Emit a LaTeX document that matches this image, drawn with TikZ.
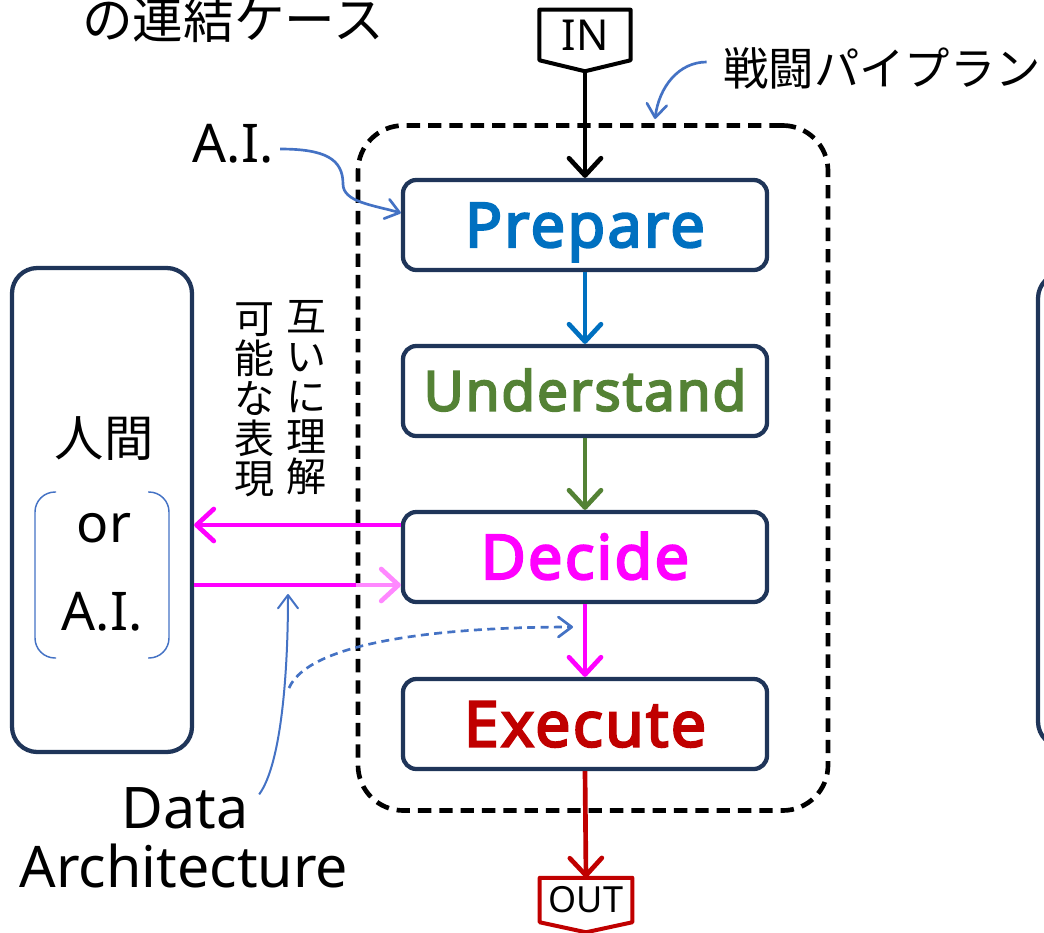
\documentclass[tikz,border=0pt]{standalone}
\usepackage{fontspec}
\setmainfont{Noto Sans}
\newfontfamily\jp{Noto Sans CJK JP}
\newfontfamily\stagefont{Open Sans}[FakeBold=4, LetterSpace=4]
\usetikzlibrary{arrows.meta,calc}
\definecolor{navy}{HTML}{1F3559}
\definecolor{stepblue}{HTML}{0070C0}
\definecolor{stepgreen}{HTML}{548235}
\definecolor{stepmag}{HTML}{FF00FF}
\definecolor{stepred}{HTML}{C00000}
\definecolor{notecol}{HTML}{4472C4}
\definecolor{softmag}{HTML}{FF88FF}
\begin{document}
\begin{tikzpicture}[x=0.75pt,y=-0.75pt,
  stage/.style 2 args={draw=navy, line width=3.2pt, rounded corners=10pt, fill=white,
    minimum width=273pt, minimum height=67.5pt, inner sep=0pt,
    text height=#2, text depth=0pt,
    font=\stagefont\fontsize{#1}{#1}\selectfont},
  bigbox/.style={draw=navy, line width=3.2pt, rounded corners=19pt,
    minimum width=135pt, inner sep=0pt},
  frame/.style={draw, dash pattern=on 10pt off 6pt, line width=3.5pt,
    rounded corners=34pt, minimum width=352.5pt, minimum height=513.75pt},
  tag/.style={inner sep=0pt},
  flow/.style={line width=3.5pt, -{Straight Barb[length=13pt,width=24pt,round]}},
  note/.style={draw=notecol, line width=2pt, -{Straight Barb[length=10pt,width=15pt,round]}},
  bracket/.style={draw=notecol, line width=1.1pt, rounded corners=15pt},
  latin/.style={font=\fontsize{40}{40}\selectfont}]
\useasboundingbox (0,0) rectangle (1044,932);
\clip (0,0) rectangle (1044,932);

% heading fragment and pipeline label
\node[font=\jp\fontsize{38}{38}\selectfont] (title) at (233,19) {の連結ケース};
\node[font=\jp\fontsize{34}{34}\selectfont] (plabel) at (882,68) {戦闘パイプラン};

% dashed pipeline frame
\node[frame] (pipe) at (593,468) {};

% pipeline stages
\node[stage={46}{32.8pt}, text=stepblue]  (prep) at (585,225) {Prepare};
\node[stage={41}{29.3pt}, text=stepgreen] (und)  at (585,391) {Understand};
\node[stage={46}{32.8pt}, text=stepmag]   (dec)  at (585,557) {Decide};
\node[stage={47}{33.6pt}, text=stepred]   (exe)  at (585,724) {Execute};

% input tag
\node[tag, minimum width=68pt, minimum height=37.5pt, font=\fontsize{32}{32}\selectfont] (in) at (585,35) {IN};
\draw[line width=3pt, line join=round]
  (in.north west) -- (in.north east) -- (in.south east)
  -- ($(in.south)+(0,11)$) coordinate (intip) -- (in.south west) -- cycle;

% output tag
\node[tag, minimum width=69pt, minimum height=33pt, font=\fontsize{27}{27}\selectfont] (out) at (586,900) {OUT};
\draw[stepred, line width=3pt, line join=round]
  (out.north west) -- (out.north east) -- (out.south east)
  -- ($(out.south)+(0,10)$) -- (out.south west) -- cycle;

% flow between stages
\draw[flow] (intip) -- (prep.north);
\draw[flow, stepblue]  (prep.south) -- (und.north);
\draw[flow, stepgreen] (und.south) -- (dec.north);
\draw[flow, stepmag]   (dec.south) -- (exe.north);
\draw[flow, stepred]   (exe.south) -- (out.north);

% human or AI actor
\node[bigbox, minimum height=363pt] (human) at (102,510) {};
\node[font=\jp\fontsize{37}{37}\selectfont] (hm) at (104,439) {人間};
\node[latin] (orw) at (104,528) {or};
\node[latin] (aiw) at (102,612) {A.I.};
\draw[bracket] (56,492) -- (35,492) -- (35,658) -- (56,658);
\draw[bracket] (148,492) -- (169,492) -- (169,658) -- (148,658);

% neighbouring actor at the right edge
\node[bigbox, minimum height=355.5pt] (next) at (1128,510) {};

% exchange between actor and Decide
\coordinate (upper) at ([yshift=24pt]dec.west);
\coordinate (lower) at ([yshift=-21pt]dec.west);
\draw[flow, stepmag] (upper) -- (human.east |- upper);
\draw[line width=3.5pt, stepmag] (human.east |- lower) -- (pipe.west |- lower);
\draw[flow, softmag] (pipe.west |- lower) -- (lower);

% vertical captions
\node[font=\jp\fontsize{30}{30}\selectfont, align=center] (vt1) at (306,398) {互\\い\\に\\理\\解};
\node[font=\jp\fontsize{30}{30}\selectfont, align=center] (vt2) at (254,400) {可\\能\\な\\表\\現};

% annotations
\node[latin] (ailabel) at (233,144) {A.I.};
\draw[note] ($(ailabel.east)+(2,5)$) .. controls +(45,0) and +(0,-25) .. (343,184)
  .. controls +(0,18) and +(-28,-8) .. ([yshift=9pt]prep.west);

\coordinate (pipemark) at (655,119);
\draw[note] ($(plabel.west)+(-12,-6)$) .. controls +(-28,0) and +(4,-32) .. (pipemark);

\node[font=\fontsize{43}{43}\selectfont, anchor=base] (data) at (185,828) {Data};
\node[font=\fontsize{43}{43}\selectfont, anchor=base] (arch) at (184,887) {Architecture};
\coordinate (feed) at (288,594);
\draw[note, line width=1.5pt] ($(data.north east)+(6,12)$) .. controls +(22,-30) and +(0,80) .. (feed);

\coordinate (dstart) at (289,688);
\coordinate (dend) at (573,627);
\draw[note, dash pattern=on 6pt off 4pt] (dstart) .. controls (310,640) and (450,627) .. (dend);
\end{tikzpicture}
\end{document}
